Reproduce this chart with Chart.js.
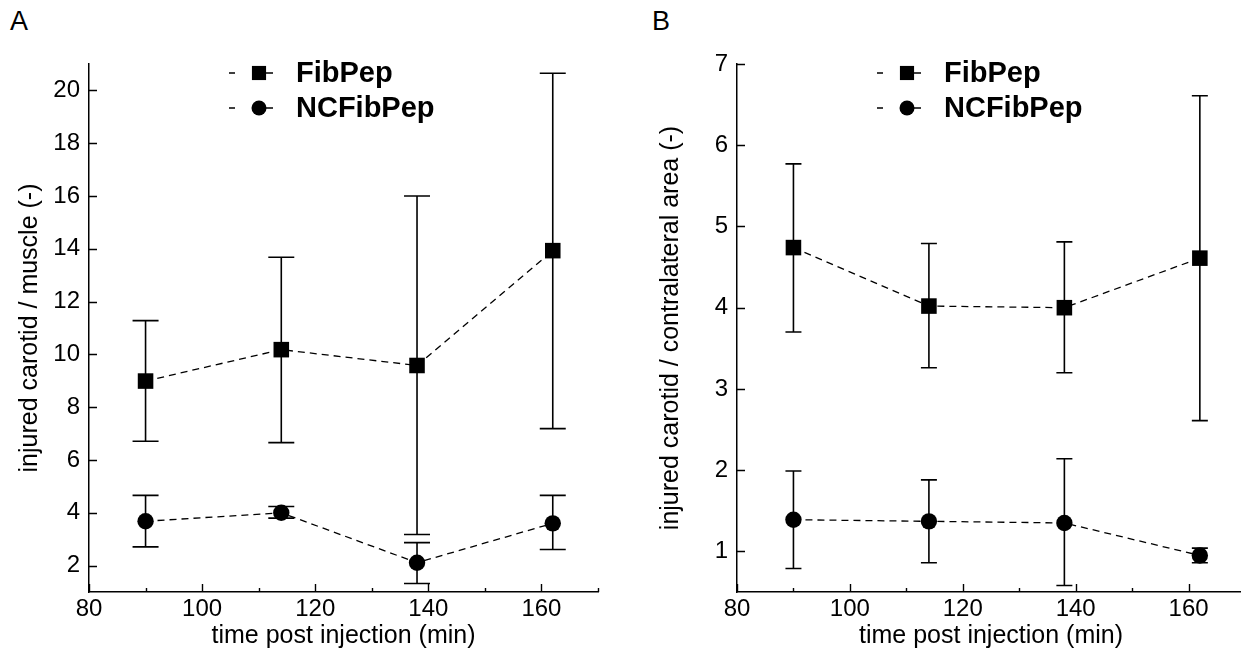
<!DOCTYPE html>
<html><head><meta charset="utf-8">
<script src="https://cdn.jsdelivr.net/npm/chart.js@4.4.1/dist/chart.umd.min.js"></script>
<style>
html,body{margin:0;padding:0;background:#fff;overflow:hidden;width:1241px;height:651px;position:relative;}
#wrapA{position:absolute;left:0;top:0;width:620px;height:651px;}
#wrapB{position:absolute;left:620px;top:0;width:660px;height:651px;}
.panel{position:absolute;font-family:"Liberation Sans",Arial,sans-serif;font-size:27px;color:#000;line-height:1;}
</style></head><body>
<div class="panel" style="left:10px;top:8px">A</div>
<div class="panel" style="left:652px;top:8px">B</div>
<div id="wrapA"><canvas id="cA" width="620" height="651"></canvas></div>
<div id="wrapB"><canvas id="cB" width="660" height="651"></canvas></div>
<script>
// ---------- data ----------
const times = [90, 114, 138, 162];
const seriesNames = ['FibPep', 'NCFibPep'];

// Panel A: injured carotid / muscle
const fibPepMuscle     = [8.99, 10.18, 9.58, 13.93];
const fibPepMuscleHigh = [11.28, 13.68, 16.0, 20.65];
const fibPepMuscleLow  = [6.71, 6.66, 3.18, 7.19];
const ncMuscle     = [3.68, 4.0, 2.11, 3.6];
const ncMuscleHigh = [4.66, 4.24, 2.87, 4.66];
const ncMuscleLow  = [2.71, 3.8, 1.32, 2.61];

// Panel B: injured carotid / contralateral area
const fibPepArea     = [4.74, 4.02, 4.0, 4.61];
const fibPepAreaHigh = [5.77, 4.79, 4.81, 6.61];
const fibPepAreaLow  = [3.70, 3.26, 3.20, 2.61];
const ncArea     = [1.39, 1.37, 1.35, 0.95];
const ncAreaHigh = [1.99, 1.88, 2.14, 1.04];
const ncAreaLow  = [0.79, 0.86, 0.58, 0.86];

// ticks
const xTickLabels = [80, 100, 120, 140, 160];
const xMinorTicks = [90, 110, 130, 150, 170];
const yTicksA = [2, 4, 6, 8, 10, 12, 14, 16, 18, 20];
const yTicksB = [1, 2, 3, 4, 5, 6, 7];

const FONT = '"Liberation Sans", Arial, sans-serif';

// ---------- plugins ----------
const errorBars = {
  id: 'errorBars',
  beforeDatasetsDraw(chart, args, opts) {
    const {ctx, scales: {x, y}} = chart;
    ctx.save();
    ctx.strokeStyle = '#000';
    ctx.lineWidth = 1.6;
    chart.data.datasets.forEach(ds => {
      ds.data.forEach((p, i) => {
        const px = x.getPixelForValue(p.x);
        const hi = y.getPixelForValue(ds.errHigh[i]);
        const lo = y.getPixelForValue(ds.errLow[i]);
        const c = opts.cap / 2;
        ctx.beginPath();
        ctx.moveTo(px, hi); ctx.lineTo(px, lo);
        ctx.moveTo(px - c, hi); ctx.lineTo(px + c, hi);
        ctx.moveTo(px - c, lo); ctx.lineTo(px + c, lo);
        ctx.stroke();
      });
    });
    ctx.restore();
  }
};

const innerTicks = {
  id: 'innerTicks',
  afterDraw(chart, args, opts) {
    const {ctx, chartArea: a, scales: {x, y}} = chart;
    ctx.save();
    ctx.strokeStyle = '#000';
    ctx.lineWidth = 1.4;
    ctx.beginPath();
    opts.xMajor.forEach(v => { const p = Math.round(x.getPixelForValue(v)) + 0.5; ctx.moveTo(p, a.bottom); ctx.lineTo(p, a.bottom - 8); });
    opts.xMinor.forEach(v => { const p = Math.round(x.getPixelForValue(v)) + 0.5; ctx.moveTo(p, a.bottom); ctx.lineTo(p, a.bottom - 4); });
    opts.yMajor.forEach(v => { const p = Math.round(y.getPixelForValue(v)) + 0.5; ctx.moveTo(a.left, p); ctx.lineTo(a.left + 8, p); });
    ctx.stroke();
    ctx.restore();
  }
};

function drawMarker(ctx, style, r, cx, cy) {
  ctx.beginPath();
  if (style === 'rect') {
    const s = r * Math.SQRT1_2;
    ctx.rect(cx - s, cy - s, 2 * s, 2 * s);
  } else {
    ctx.arc(cx, cy, r, 0, Math.PI * 2);
  }
  ctx.fill();
}

const sampleLegend = {
  id: 'sampleLegend',
  afterDraw(chart, args, opts) {
    const {ctx, chartArea: a} = chart;
    ctx.save();
    ctx.strokeStyle = '#000';
    ctx.fillStyle = '#000';
    ctx.lineWidth = 1.3;
    chart.data.datasets.forEach((ds, i) => {
      const y = opts.top + i * opts.rowGap;
      const x0 = a.left + opts.offset;
      ctx.beginPath();
      ctx.moveTo(x0, y); ctx.lineTo(x0 + 6, y);
      ctx.moveTo(x0 + 37, y); ctx.lineTo(x0 + 44, y);
      ctx.stroke();
      drawMarker(ctx, ds.pointStyle, ds.pointStyle === 'rect' ? 10 : 7.5, x0 + 30, y);
      ctx.font = 'bold 29px ' + FONT;
      ctx.textBaseline = 'middle';
      ctx.textAlign = 'left';
      ctx.fillText(ds.label, x0 + 67, y + 1);
    });
    ctx.restore();
  }
};

// ---------- builder ----------
function makeDataset(label, ys, hi, lo, style) {
  return {
    label,
    data: times.map((t, i) => ({x: t, y: ys[i]})),
    errHigh: hi, errLow: lo,
    borderColor: '#000', backgroundColor: '#000',
    borderWidth: 1.3, borderDash: [7, 5],
    pointStyle: style,
    pointRadius: style === 'rect' ? 11 : 8.2,
    pointHoverRadius: style === 'rect' ? 11 : 8.2,
    pointBorderWidth: 0,
    tension: 0, fill: false
  };
}

function makeChart(id, cfg) {
  return new Chart(document.getElementById(id), {
    type: 'line',
    data: {datasets: cfg.datasets},
    options: {
      responsive: false, animation: false, devicePixelRatio: 1,
      layout: {padding: {left: cfg.padLeft, right: cfg.padRight, top: 64, bottom: 0}},
      plugins: {
        legend: {display: false}, tooltip: {enabled: false},
        errorBars: {cap: cfg.cap},
        innerTicks: {xMajor: xTickLabels, xMinor: xMinorTicks, yMajor: cfg.yTicks},
        sampleLegend: {top: 73, rowGap: 35, offset: 140}
      },
      scales: {
        x: {
          type: 'linear', min: 80, max: 170,
          grid: {display: false, drawTicks: false},
          border: {display: true, color: '#000', width: 1.5},
          afterFit: s => { s.height = 651 - 592; },
          afterBuildTicks: s => { s.ticks = xTickLabels.map(v => ({value: v})); },
          ticks: {color: '#000', padding: 3, font: {family: FONT, size: 24}, maxRotation: 0, autoSkip: false},
          title: {display: true, text: 'time post injection (min)', color: '#000',
                  font: {family: FONT, size: 25}, padding: {top: 0, bottom: 0}}
        },
        y: {
          type: 'linear', min: cfg.yMin, max: cfg.yMax,
          grid: {display: false, drawTicks: false},
          border: {display: true, color: '#000', width: 1.5},
          afterFit: s => { s.width = cfg.yWidth; },
          afterBuildTicks: s => { s.ticks = cfg.yTicks.map(v => ({value: v})); },
          ticks: {color: '#000', padding: 9, font: {family: FONT, size: 24}, autoSkip: false},
          title: {display: true, text: cfg.yTitle, color: '#000',
                  font: {family: FONT, size: 25}, padding: {top: 3, bottom: 0}}
        }
      }
    },
    plugins: [errorBars, innerTicks, sampleLegend]
  });
}

makeChart('cA', {
  datasets: [
    makeDataset(seriesNames[0], fibPepMuscle, fibPepMuscleHigh, fibPepMuscleLow, 'rect'),
    makeDataset(seriesNames[1], ncMuscle, ncMuscleHigh, ncMuscleLow, 'circle')
  ],
  yMin: 1, yMax: 21, yTicks: yTicksA, cap: 26,
  yTitle: 'injured carotid / muscle (-)',
  padLeft: 12, yWidth: 77, padRight: 22
});

makeChart('cB', {
  datasets: [
    makeDataset(seriesNames[0], fibPepArea, fibPepAreaHigh, fibPepAreaLow, 'rect'),
    makeDataset(seriesNames[1], ncArea, ncAreaHigh, ncAreaLow, 'circle')
  ],
  yMin: 0.5, yMax: 7, yTicks: yTicksB, cap: 16,
  yTitle: 'injured carotid / contralateral area (-)',
  padLeft: 33, yWidth: 84, padRight: 35
});
</script>
</body></html>
